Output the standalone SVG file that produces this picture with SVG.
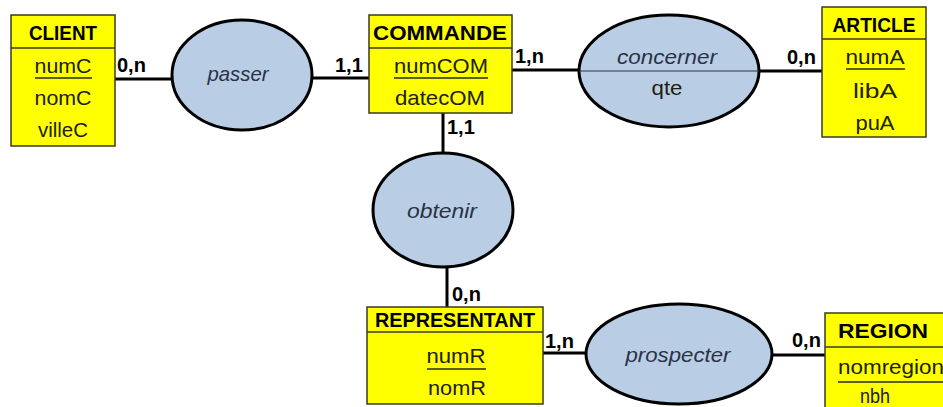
<svg xmlns="http://www.w3.org/2000/svg" width="943" height="407" viewBox="0 0 943 407">
<style>
.ent{fill:#FFFF00;stroke:#3a3a20;stroke-width:1.5}
.sep{stroke:#3a3a20;stroke-width:1.5}
.rel{fill:#B9CDE5;stroke:#000;stroke-width:3}
.lnk{stroke:#000;stroke-width:3;fill:none}
.ul{stroke:#2a2a10;stroke-width:1.5}
text{font-family:"Liberation Sans",Arial,sans-serif;font-size:21px;fill:#202010;text-anchor:middle}
.h{font-weight:bold;fill:#000;font-size:20px}
.c{font-weight:bold;fill:#000;text-anchor:start;font-size:20px}
.r{font-style:italic;fill:#2a3346}
</style>
<rect width="943" height="407" fill="#fff"/>
<g id="connectors">
<line class="lnk" x1="115" y1="79" x2="174" y2="79"/>
<line class="lnk" x1="310" y1="78" x2="369" y2="78"/>
<line class="lnk" x1="512" y1="70" x2="580" y2="70"/>
<line class="lnk" x1="758" y1="71" x2="822" y2="71"/>
<line class="lnk" x1="443" y1="113" x2="443" y2="154"/>
<line class="lnk" x1="447" y1="266" x2="447" y2="307"/>
<line class="lnk" x1="543" y1="353" x2="587" y2="353"/>
<line class="lnk" x1="771" y1="355" x2="825" y2="355"/>
<text class="c" x="117" y="72">0,n</text>
<text class="c" x="335" y="72">1,1</text>
<text class="c" x="515" y="63">1,n</text>
<text class="c" x="787" y="64">0,n</text>
<text class="c" x="447" y="134">1,1</text>
<text class="c" x="452" y="301">0,n</text>
<text class="c" x="545" y="348">1,n</text>
<text class="c" x="792" y="347">0,n</text>
</g>
<g id="client">
<rect class="ent" x="11" y="15" width="104" height="131"/>
<line class="sep" x1="11" y1="48" x2="115" y2="48"/>
<text class="h" x="63" y="40" textLength="68" lengthAdjust="spacingAndGlyphs">CLIENT</text>
<text x="63" y="73" textLength="57" lengthAdjust="spacingAndGlyphs">numC</text>
<line class="ul" x1="35" y1="78" x2="92" y2="78"/>
<text x="63" y="105" textLength="57" lengthAdjust="spacingAndGlyphs">nomC</text>
<text x="63" y="137" textLength="50" lengthAdjust="spacingAndGlyphs">villeC</text>
</g>
<g id="passer">
<ellipse class="rel" cx="242" cy="75" rx="70" ry="55"/>
<text class="r" x="238" y="81" textLength="61" lengthAdjust="spacingAndGlyphs">passer</text>
</g>
<g id="commande">
<rect class="ent" x="369" y="15" width="143" height="98"/>
<line class="sep" x1="369" y1="48" x2="512" y2="48"/>
<text class="h" x="440" y="40" textLength="134" lengthAdjust="spacingAndGlyphs">COMMANDE</text>
<text x="441" y="73" textLength="94" lengthAdjust="spacingAndGlyphs">numCOM</text>
<line class="ul" x1="394" y1="78" x2="488" y2="78"/>
<text x="440" y="105" textLength="90" lengthAdjust="spacingAndGlyphs">datecOM</text>
</g>
<g id="concerner">
<ellipse class="rel" cx="669" cy="71" rx="90" ry="56"/>
<line x1="579" y1="71" x2="759" y2="71" stroke="#2a3346" stroke-width="1.2"/>
<text class="r" x="667" y="64" textLength="100" lengthAdjust="spacingAndGlyphs">concerner</text>
<text x="667" y="95" textLength="31" lengthAdjust="spacingAndGlyphs">qte</text>
</g>
<g id="article">
<rect class="ent" x="822" y="7" width="104" height="130"/>
<line class="sep" x1="822" y1="39" x2="926" y2="39"/>
<text class="h" x="874" y="32" textLength="83" lengthAdjust="spacingAndGlyphs">ARTICLE</text>
<text x="875" y="64" textLength="59" lengthAdjust="spacingAndGlyphs">numA</text>
<line class="ul" x1="846" y1="69" x2="905" y2="69"/>
<text x="875" y="98" textLength="44" lengthAdjust="spacingAndGlyphs">libA</text>
<text x="875" y="130" textLength="39" lengthAdjust="spacingAndGlyphs">puA</text>
</g>
<g id="obtenir">
<ellipse class="rel" cx="443" cy="210" rx="70" ry="57"/>
<text class="r" x="442" y="218" textLength="70" lengthAdjust="spacingAndGlyphs">obtenir</text>
</g>
<g id="representant">
<rect class="ent" x="367" y="307" width="176" height="97"/>
<line class="sep" x1="367" y1="332" x2="543" y2="332"/>
<text class="h" x="455" y="327" textLength="160" lengthAdjust="spacingAndGlyphs">REPRESENTANT</text>
<text x="456" y="363" textLength="59" lengthAdjust="spacingAndGlyphs">numR</text>
<line class="ul" x1="427" y1="369" x2="486" y2="369"/>
<text x="457" y="395" textLength="58" lengthAdjust="spacingAndGlyphs">nomR</text>
</g>
<g id="prospecter">
<ellipse class="rel" cx="679" cy="354" rx="93" ry="50"/>
<text class="r" x="678" y="362" textLength="105" lengthAdjust="spacingAndGlyphs">prospecter</text>
</g>
<g id="region">
<rect class="ent" x="825" y="313" width="130" height="100"/>
<line class="sep" x1="825" y1="347" x2="955" y2="347"/>
<text class="h" x="883" y="338" textLength="90" lengthAdjust="spacingAndGlyphs">REGION</text>
<text x="891" y="374" textLength="106" lengthAdjust="spacingAndGlyphs">nomregion</text>
<line class="ul" x1="838" y1="382" x2="944" y2="382"/>
<text x="875" y="403" textLength="30" lengthAdjust="spacingAndGlyphs">nbh</text>
</g>
</svg>
